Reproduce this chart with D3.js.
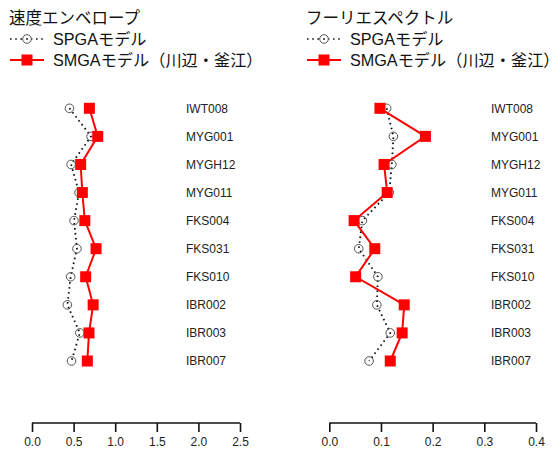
<!DOCTYPE html>
<html>
<head>
<meta charset="utf-8">
<script src="https://cdn.jsdelivr.net/npm/d3@7"></script>
<style>
  html, body { margin: 0; padding: 0; background: #fff; }
  svg { display: block; }
</style>
</head>
<body>
<svg id="chart" width="560" height="457"></svg>
<script>
// Stations, top to bottom
const stations = ["IWT008", "MYG001", "MYGH12", "MYG011", "FKS004", "FKS031", "FKS010", "IBR002", "IBR003", "IBR007"];

// Velocity envelope
const velSPGA = [0.45, 0.71, 0.47, 0.565, 0.505, 0.54, 0.465, 0.425, 0.575, 0.475];
const velSMGA = [0.69, 0.79, 0.585, 0.605, 0.635, 0.77, 0.645, 0.735, 0.685, 0.665];
const velTicks = [0, 0.5, 1.0, 1.5, 2.0, 2.5];

// Fourier spectrum
const fouSPGA = [0.111, 0.124, 0.121, 0.116, 0.064, 0.057, 0.094, 0.092, 0.118, 0.077];
const fouSMGA = [0.098, 0.186, 0.106, 0.112, 0.048, 0.088, 0.051, 0.145, 0.141, 0.118];
const fouTicks = [0, 0.1, 0.2, 0.3, 0.4];

const titles = ["速度エンベロープ", "フーリエスペクトル"];
const legendLabels = ["SPGAモデル", "SMGAモデル（川辺・釜江）"];

const svg = d3.select("#chart");
const jpFont = "'Liberation Sans', 'Noto Sans CJK JP', sans-serif";
const numFont = "'Liberation Sans', Arial, sans-serif";

const y = d3.scalePoint().domain(stations).range([108.3, 361]);

const panels = [
  { x0: 0, range: [32, 240], domain: [0, 2.5], ticks: velTicks, spga: velSPGA, smga: velSMGA,
    fmt: d3.format(".1f"), labelX: 186, title: titles[0] },
  { x0: 297, range: [329.3, 536], domain: [0, 0.4], ticks: fouTicks, spga: fouSPGA, smga: fouSMGA,
    fmt: d3.format(".1f"), labelX: 491, title: titles[1] }
];

panels.forEach(p => {
  const x = d3.scaleLinear().domain(p.domain).range(p.range);
  const g = svg.append("g");

  // Title and legend
  const lx = p.x0 + 9;
  g.append("text").attr("x", lx).attr("y", 24)
    .attr("font-family", jpFont).attr("font-size", 16.5).attr("fill", "#111")
    .text(p.title);

  g.append("line").attr("x1", lx + 1).attr("x2", lx + 35).attr("y1", 39).attr("y2", 39)
    .attr("stroke", "#111").attr("stroke-width", 1.6).attr("stroke-dasharray", "1.6,3.6");
  g.append("circle").attr("cx", lx + 18).attr("cy", 39).attr("r", 4.3)
    .attr("fill", "#fff").attr("stroke", "#555").attr("stroke-width", 1);
  g.append("circle").attr("cx", lx + 18).attr("cy", 39).attr("r", 0.9).attr("fill", "#111");
  g.append("text").attr("x", lx + 44).attr("y", 45)
    .attr("font-family", jpFont).attr("font-size", 16.2).attr("fill", "#111")
    .text(legendLabels[0]);

  g.append("line").attr("x1", lx + 1).attr("x2", lx + 35).attr("y1", 60).attr("y2", 60)
    .attr("stroke", "#f00").attr("stroke-width", 2);
  g.append("rect").attr("x", lx + 18 - 5.5).attr("y", 60 - 5.5).attr("width", 11).attr("height", 11)
    .attr("fill", "#f00");
  g.append("text").attr("x", lx + 44).attr("y", 66)
    .attr("font-family", jpFont).attr("font-size", 16.2).attr("fill", "#111")
    .text(legendLabels[1]);

  // Station labels
  g.selectAll("text.st").data(stations).join("text").attr("class", "st")
    .attr("x", p.labelX).attr("y", d => y(d)).attr("dy", "0.35em")
    .attr("font-family", numFont).attr("font-size", 12).attr("fill", "#222")
    .text(d => d);

  // SPGA: dotted line with open circles
  const line = d3.line().x(d => x(d.v)).y(d => y(d.s));
  const spga = stations.map((s, i) => ({ s, v: p.spga[i] }));
  const smga = stations.map((s, i) => ({ s, v: p.smga[i] }));

  g.append("path").datum(spga).attr("d", line).attr("fill", "none")
    .attr("stroke", "#111").attr("stroke-width", 1.8).attr("stroke-dasharray", "1.6,3.4");
  g.selectAll("circle.sp").data(spga).join("circle").attr("class", "sp")
    .attr("cx", d => x(d.v)).attr("cy", d => y(d.s)).attr("r", 4.3)
    .attr("fill", "none").attr("stroke", "#555").attr("stroke-width", 1);

  // SMGA: solid red line with filled squares
  g.append("path").datum(smga).attr("d", line).attr("fill", "none")
    .attr("stroke", "#f00").attr("stroke-width", 2);
  g.selectAll("rect.sm").data(smga).join("rect").attr("class", "sm")
    .attr("x", d => x(d.v) - 5.5).attr("y", d => y(d.s) - 5.5)
    .attr("width", 11).attr("height", 11).attr("fill", "#f00");

  // Bottom axis
  const axis = d3.axisBottom(x).tickValues(p.ticks).tickFormat(p.fmt).tickSize(9).tickPadding(5);
  const ag = g.append("g").attr("transform", "translate(0,423)").call(axis);
  ag.select(".domain").attr("stroke", "#111").attr("stroke-width", 1.6)
    .attr("d", `M${p.range[0]},0H${p.range[1]}`);
  ag.selectAll(".tick line").attr("stroke", "#111").attr("stroke-width", 1.6);
  ag.selectAll(".tick text").attr("font-family", numFont).attr("font-size", 12).attr("fill", "#222");
});
</script>
</body>
</html>
